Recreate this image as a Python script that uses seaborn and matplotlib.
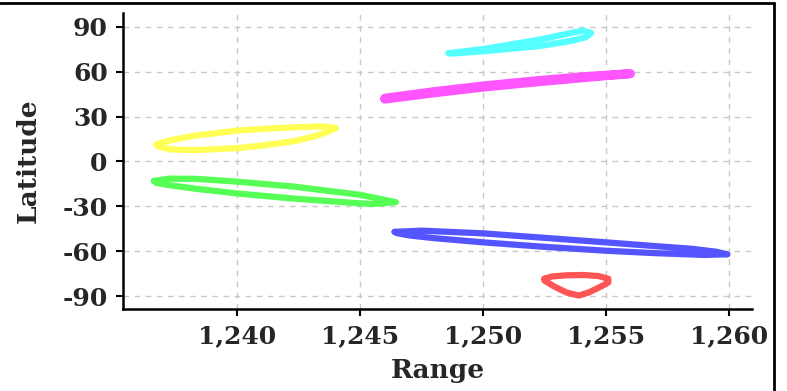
import pandas as pd
import numpy as np
import matplotlib.pyplot as plt
import seaborn as sns
from matplotlib.lines import Line2D

# loops (range, latitude), each closed
yellow_rng = [1236.7, 1237.3, 1238.3, 1240.0, 1241.5, 1242.5, 1243.5, 1244.0, 1243.7, 1243.2, 1242.3, 1241.0, 1240.0, 1238.3, 1237.3, 1236.8, 1236.7]
yellow_lat = [11.3, 14.3, 17.3, 20.6, 22.2, 22.9, 23.4, 22.3, 20.0, 17.0, 13.5, 10.6, 8.9, 7.6, 8.0, 9.8, 11.3]

green_rng = [1236.6, 1237.2, 1238.3, 1240.0, 1242.3, 1245.0, 1246.45, 1245.5, 1245.0, 1242.3, 1240.0, 1238.3, 1237.2, 1236.7, 1236.6]
green_lat = [-13.0, -11.5, -11.6, -13.5, -16.8, -22.3, -27.2, -28.4, -28.0, -24.8, -21.4, -18.2, -15.8, -14.3, -13.0]

cyan_rng = [1248.6, 1250.0, 1252.3, 1253.6, 1254.05, 1254.4, 1254.2, 1253.6, 1252.3, 1250.0, 1248.7, 1248.6]
cyan_lat = [72.3, 75.0, 81.3, 85.8, 87.3, 85.8, 83.0, 80.5, 77.0, 73.5, 72.0, 72.3]

magenta_rng = [1246.0, 1248.0, 1250.0, 1252.0, 1254.0, 1256.0, 1254.0, 1252.0, 1250.0, 1248.0, 1246.0]
magenta_lat = [41.6, 45.8, 49.6, 52.8, 55.8, 58.6, 56.5, 53.6, 50.4, 46.6, 42.2]

blue_rng = [1246.4, 1247.5, 1250.0, 1252.5, 1255.0, 1257.0, 1258.5, 1259.5, 1259.95, 1259.0, 1257.0, 1255.0, 1252.5, 1250.0, 1248.0, 1247.0, 1246.5, 1246.4]
blue_lat = [-47.0, -46.2, -48.0, -51.0, -54.0, -56.5, -58.3, -60.3, -62.0, -62.4, -61.2, -59.6, -57.0, -54.0, -51.2, -49.4, -47.9, -47.0]

red_rng = [1252.5, 1252.8, 1253.4, 1254.1, 1254.7, 1255.1, 1255.1, 1254.8, 1254.3, 1253.9, 1253.4, 1252.9, 1252.5, 1252.5]
red_lat = [-78.3, -76.8, -76.0, -75.8, -76.5, -78.3, -80.8, -83.5, -87.5, -89.5, -87.5, -83.5, -79.5, -78.3]

tracks = {
    'yellow': (yellow_rng, yellow_lat, '#ffff55'),
    'green': (green_rng, green_lat, '#55ff55'),
    'cyan': (cyan_rng, cyan_lat, '#55ffff'),
    'magenta': (magenta_rng, magenta_lat, '#ff55ff'),
    'blue': (blue_rng, blue_lat, '#5555ff'),
    'red': (red_rng, red_lat, '#ff5555'),
}

xticks = [1240, 1245, 1250, 1255, 1260]
yticks = [90, 60, 30, 0, -30, -60, -90]

rows = []
for name, (r, l, c) in tracks.items():
    for i in range(len(r)):
        rows.append({'Range': r[i], 'Latitude': l[i], 'track': name})
df = pd.DataFrame(rows)
palette = {k: v[2] for k, v in tracks.items()}

sns.set_style('white')
plt.rcParams['font.family'] = ['DejaVu Serif']
plt.rcParams['font.weight'] = 'bold'

fig = plt.figure(figsize=(7.87, 3.91), dpi=100)
ax = fig.add_axes([0.1563, 0.2097, 0.7992, 0.7571])

for name in tracks:
    sub = df[df['track'] == name]
    sns.lineplot(data=sub, x='Range', y='Latitude', sort=False, estimator=None,
                 color=palette[name], lw=6.5 if name == 'magenta' else 4.5,
                 solid_joinstyle='round', solid_capstyle='round', ax=ax, zorder=3)

ax.set_xlim(1235.34, 1260.95)
ax.set_ylim(-98.5, 99.1)
ax.set_xticks(xticks)
ax.set_xticklabels([f'{t:,}' for t in xticks])
ax.set_yticks(yticks)
ax.set_yticklabels([str(t) for t in yticks])

ax.grid(True, color='#c8c8c8', ls=(0, (4, 4)), lw=1)
for s in ['top', 'right']:
    ax.spines[s].set_visible(False)
for s in ['left', 'bottom']:
    ax.spines[s].set_color('black')
    ax.spines[s].set_linewidth(1.8)
ax.tick_params(axis='both', direction='out', length=5, width=1.5, color='black',
               labelsize=18, pad=6, left=True, bottom=True)
for lab in ax.get_xticklabels() + ax.get_yticklabels():
    lab.set_fontweight('bold')

ax.set_xlabel('Range', fontsize=19, fontweight='bold', labelpad=7)
ax.set_ylabel('Latitude', fontsize=19, fontweight='bold', labelpad=16)

# frame pieces along top and right edge
fig.add_artist(Line2D([0, 0.984], [0.993, 0.993], transform=fig.transFigure, color='black', lw=2))
fig.add_artist(Line2D([0.983, 0.983], [0, 0.993], transform=fig.transFigure, color='black', lw=2))

fig.savefig('out.png', dpi=100)
